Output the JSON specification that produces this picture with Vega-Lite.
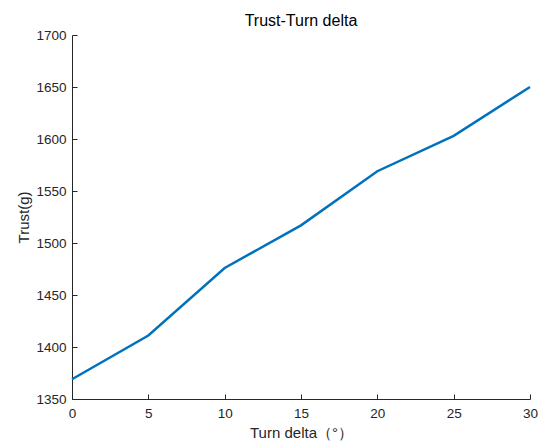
{
  "$schema": "https://vega.github.io/schema/vega-lite/v6.json",
  "autosize": {"type": "none"},
  "padding": {"left": 72, "top": 35, "right": 9, "bottom": 43},
  "width": 458,
  "height": 364,
  "title": {
    "text": "Trust-Turn delta",
    "font": "Liberation Sans",
    "fontSize": 16,
    "fontWeight": "normal",
    "color": "#000000",
    "offset": -1
  },
  "data": {
    "values": [
      {"turn": 0, "trust": 1369},
      {"turn": 5, "trust": 1411},
      {"turn": 10, "trust": 1476},
      {"turn": 15, "trust": 1517},
      {"turn": 20, "trust": 1569},
      {"turn": 25, "trust": 1603},
      {"turn": 30, "trust": 1650}
    ]
  },
  "config": {
    "view": {"stroke": null},
    "axis": {
      "domainColor": "#262626",
      "tickColor": "#262626",
      "labelColor": "#262626",
      "titleColor": "#262626",
      "labelFont": "Liberation Sans",
      "titleFont": "Liberation Sans",
      "labelFontSize": 13.5,
      "titleFontSize": 15,
      "titleFontWeight": "normal",
      "grid": false,
      "tickSize": -5,
      "domainWidth": 1,
      "tickWidth": 1,
      "format": "d"
    }
  },
  "mark": {"type": "line", "color": "#0072BD", "strokeWidth": 2.5},
  "encoding": {
    "x": {
      "field": "turn",
      "type": "quantitative",
      "title": "Turn delta（°）",
      "scale": {"domain": [0, 30], "nice": false, "zero": false},
      "axis": {"values": [0, 5, 10, 15, 20, 25, 30], "labelPadding": 12, "titlePadding": 6, "labelFlush": false}
    },
    "y": {
      "field": "trust",
      "type": "quantitative",
      "title": "Trust(g)",
      "scale": {"domain": [1350, 1700], "nice": false, "zero": false},
      "axis": {"values": [1350, 1400, 1450, 1500, 1550, 1600, 1650, 1700], "labelPadding": 11, "titlePadding": 4, "labelFlush": false}
    }
  }
}
